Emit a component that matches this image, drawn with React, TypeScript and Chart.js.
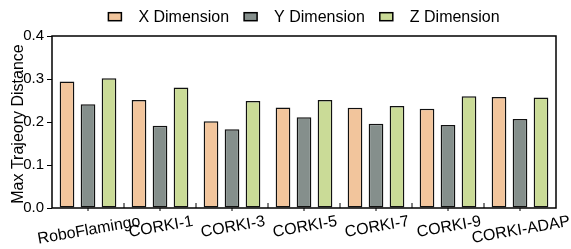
import React, { useEffect, useRef } from "react";
import { Chart, registerables } from "chart.js";

Chart.register(...registerables);

const categories = ["RoboFlamingo", "CORKI-1", "CORKI-3", "CORKI-5", "CORKI-7", "CORKI-9", "CORKI-ADAP"];
const xDimension = [0.294, 0.251, 0.202, 0.234, 0.233, 0.231, 0.258];
const yDimension = [0.241, 0.191, 0.183, 0.211, 0.196, 0.193, 0.207];
const zDimension = [0.302, 0.280, 0.249, 0.251, 0.237, 0.260, 0.257];
const seriesNames = ["X Dimension", "Y Dimension", "Z Dimension"];
const seriesColors = ["#f2c59c", "#858f8c", "#cadb97"];
const yTicks = [0, 0.1, 0.2, 0.3, 0.4];
const yTitle = "Max Trajeory Distance";

const FONT = "'Liberation Sans', Arial, sans-serif";

const overlay = {
  id: "overlay",
  afterDraw(chart: any) {
    const ctx = chart.ctx as CanvasRenderingContext2D;
    const area = chart.chartArea;
    const xs = chart.scales.x;
    ctx.save();
    // frame
    ctx.strokeStyle = "#000";
    ctx.lineWidth = 1.5;
    ctx.strokeRect(area.left, area.top, area.right - area.left, area.bottom - area.top);
    // x ticks
    ctx.lineWidth = 1;
    const n = categories.length;
    for (let i = 0; i < n; i++) {
      const cx = xs.getPixelForValue(i);
      ctx.beginPath();
      ctx.moveTo(cx, area.bottom);
      ctx.lineTo(cx, area.bottom + 3);
      ctx.stroke();
      if (i > 0) {
        const bx = (xs.getPixelForValue(i - 1) + cx) / 2;
        ctx.beginPath();
        ctx.moveTo(bx, area.bottom);
        ctx.lineTo(bx, area.bottom - 5);
        ctx.stroke();
      }
    }
    // x labels
    ctx.fillStyle = "#000";
    ctx.font = `16px ${FONT}`;
    ctx.textAlign = "center";
    ctx.textBaseline = "middle";
    const ang = (10 * Math.PI) / 180;
    const top = area.bottom + 6;
    const h = 15;
    for (let i = 0; i < n; i++) {
      const cx = xs.getPixelForValue(i);
      const w = ctx.measureText(categories[i]).width;
      const bh = w * Math.sin(ang) + h * Math.cos(ang);
      const cy = top + bh / 2;
      ctx.save();
      ctx.translate(cx + 1, cy);
      ctx.rotate(-ang);
      ctx.fillText(categories[i], 0, 0);
      ctx.restore();
    }
    // y title
    ctx.save();
    ctx.font = `16px ${FONT}`;
    ctx.textAlign = "center";
    ctx.textBaseline = "alphabetic";
    ctx.translate(23, (area.top + area.bottom) / 2 + 2);
    ctx.rotate(-Math.PI / 2);
    ctx.fillText(yTitle, 0, 0);
    ctx.restore();
    // legend
    ctx.font = `16px ${FONT}`;
    ctx.textAlign = "left";
    ctx.textBaseline = "middle";
    const boxW = 13, boxH = 8, gap = 17, spacing = 15;
    const widths = seriesNames.map((s) => ctx.measureText(s).width);
    const total = widths.reduce((a, b) => a + b, 0) + seriesNames.length * (boxW + gap) + (seriesNames.length - 1) * spacing;
    let lx = (area.left + area.right) / 2 - total / 2;
    const ly = 16.7;
    for (let i = 0; i < seriesNames.length; i++) {
      ctx.fillStyle = seriesColors[i];
      ctx.fillRect(lx, ly - boxH / 2, boxW, boxH);
      ctx.strokeStyle = "#000";
      ctx.lineWidth = 1.5;
      ctx.strokeRect(lx, ly - boxH / 2, boxW, boxH);
      ctx.fillStyle = "#000";
      ctx.fillText(seriesNames[i], lx + boxW + gap, ly + 0.5);
      lx += boxW + gap + widths[i] + spacing;
    }
    ctx.restore();
  },
};

export default function App() {
  const ref = useRef<HTMLCanvasElement | null>(null);
  useEffect(() => {
    document.body.style.margin = "0";
    const series = [xDimension, yDimension, zDimension];
    const chart = new Chart(ref.current as HTMLCanvasElement, {
      type: "bar",
      data: {
        labels: categories,
        datasets: series.map((d, i) => ({
          label: seriesNames[i],
          data: d,
          backgroundColor: seriesColors[i],
          borderColor: "#111",
          borderWidth: 1.5,
          borderSkipped: false,
          categoryPercentage: 0.875,
          barPercentage: 0.7,
        })),
      },
      options: {
        responsive: false,
        animation: false,
        devicePixelRatio: 1,
        layout: { padding: { top: 36, right: 15, left: 0, bottom: 0 } },
        plugins: { legend: { display: false }, tooltip: { enabled: false }, title: { display: false } },
        scales: {
          x: {
            display: true,
            ticks: { display: false },
            grid: { display: false },
            border: { display: false },
            afterFit: (s: any) => {
              s.height = 41;
            },
          },
          y: {
            min: 0,
            max: 0.4,
            afterBuildTicks: (s: any) => {
              s.ticks = yTicks.map((v) => ({ value: v }));
            },
            ticks: {
              callback: (v: any) => Number(v).toFixed(1),
              color: "#000",
              font: { family: FONT, size: 15 },
              padding: 3,
            },
            grid: { display: true, drawOnChartArea: false, drawTicks: true, tickLength: 5, color: "#000", lineWidth: 1 },
            border: { display: false },
            afterFit: (s: any) => {
              s.width = 52;
            },
          },
        },
      },
      plugins: [overlay],
    });
    return () => chart.destroy();
  }, []);
  return <canvas ref={ref} width={571} height={249} style={{ display: "block" }} />;
}
